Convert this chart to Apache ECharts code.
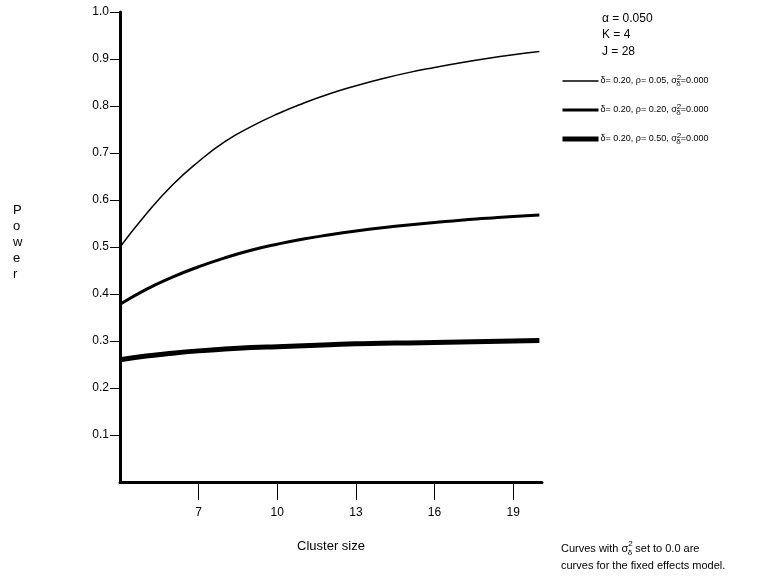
<!DOCTYPE html>
<html>
<head>
<meta charset="utf-8">
<script src="https://cdn.jsdelivr.net/npm/echarts@6/dist/echarts.min.js"></script>
<style>
  html, body { margin: 0; padding: 0; background: #fff; }
  #chart { width: 758px; height: 579px; }
</style>
</head>
<body>
<div id="chart"></div>
<script>
// cluster sizes and power values
const clusterSize = [4, 5, 6, 7, 8, 9, 10, 11, 12, 13, 14, 15, 16, 17, 18, 19, 20];
const powerRho05 = [0.500, 0.570, 0.632, 0.682, 0.724, 0.756, 0.783, 0.806, 0.826, 0.843, 0.858, 0.871, 0.882, 0.892, 0.901, 0.909, 0.916];
const powerRho20 = [0.378, 0.410, 0.436, 0.458, 0.477, 0.493, 0.506, 0.517, 0.526, 0.534, 0.541, 0.547, 0.552, 0.557, 0.561, 0.565, 0.568];
const powerRho50 = [0.260, 0.268, 0.274, 0.279, 0.283, 0.286, 0.288, 0.290, 0.292, 0.294, 0.295, 0.296, 0.297, 0.298, 0.299, 0.300, 0.301];
const seriesNames = ['rho05', 'rho20', 'rho50'];
const rhoLabels = ['0.05', '0.20', '0.50'];
const xTicks = [7, 10, 13, 16, 19];
const yTicks = [0.1, 0.2, 0.3, 0.4, 0.5, 0.6, 0.7, 0.8, 0.9, 1.0];

const font = '"Liberation Sans", Arial, sans-serif';
var myChart = echarts.init(document.getElementById('chart'));

const pairs = ys => clusterSize.map((x, i) => [x, ys[i]]);
const widths = [1.5, 3, 5];
const allData = [powerRho05, powerRho20, powerRho50];

const series = seriesNames.map((name, i) => ({
    name: name,
    type: 'line',
    data: pairs(allData[i]),
    smooth: true,
    symbol: 'none',
    lineStyle: {color: '#000', width: widths[i]},
    itemStyle: {color: '#000'}
}));

const sigmaRich = {
    t: {fontSize: 9, color: '#000', fontFamily: font},
    sup: {fontSize: 8, color: '#000', fontFamily: font, verticalAlign: 'top', padding: [0, 0, 6, 0]},
    sub: {fontSize: 8, color: '#000', fontFamily: font, verticalAlign: 'bottom', padding: [6, 0, 0, -5]}
};

var option = {
    animation: false,
    backgroundColor: '#fff',
    grid: {left: 120, right: 216, top: 12, bottom: 97},
    xAxis: {
        type: 'value',
        min: 4,
        max: 20.1,
        name: 'Cluster size',
        nameLocation: 'middle',
        nameGap: 58,
        nameTextStyle: {fontSize: 13, color: '#000', fontFamily: font},
        axisLine: {show: true, lineStyle: {color: '#000', width: 3}},
        axisTick: {show: true, customValues: xTicks, length: 18, lineStyle: {color: '#000', width: 1}},
        axisLabel: {customValues: xTicks, margin: 25, fontSize: 12, color: '#000', fontFamily: font},
        splitLine: {show: false}
    },
    yAxis: {
        type: 'value',
        min: 0,
        max: 1,
        interval: 0.1,
        axisLine: {show: true, lineStyle: {color: '#000', width: 3}},
        axisTick: {show: true, customValues: yTicks, length: 10, lineStyle: {color: '#000', width: 1}},
        axisLabel: {
            customValues: yTicks,
            margin: 11,
            fontSize: 12,
            color: '#000',
            fontFamily: font,
            formatter: v => v.toFixed(1)
        },
        splitLine: {show: false}
    },
    legend: {
        data: seriesNames.map((n, i) => ({name: n, lineStyle: {width: widths[i]}})),
        orient: 'vertical',
        left: 560,
        top: 74,
        padding: 0,
        itemWidth: 36,
        itemHeight: 14,
        itemGap: 15,
        selectedMode: false,
        itemStyle: {opacity: 0},
        lineStyle: {width: 'inherit'},
        formatter: name => {
            const i = seriesNames.indexOf(name);
            return '{t|δ= 0.20, ρ= ' + rhoLabels[i] + ', σ}{sup|2}{sub|δ}{t|=0.000}';
        },
        textStyle: {rich: sigmaRich, padding: [0, 0, 0, -3]}
    },
    graphic: [
        {
            type: 'text', left: 602, top: 10,
            style: {text: 'α = 0.050\nK = 4\nJ = 28', fontSize: 12, lineHeight: 16.5, fill: '#000', fontFamily: font}
        },
        {
            type: 'text', left: 13, top: 202,
            style: {text: 'P\no\nw\ne\nr', fontSize: 13, lineHeight: 16, fill: '#000', fontFamily: font, align: 'center'}
        },
        {
            type: 'text', left: 561, top: 540,
            style: {
                text: '{a|Curves with σ}{sup|2}{sub|δ}{a| set to 0.0 are}\n{a|curves for the fixed effects model.}',
                rich: {
                    a: {fontSize: 11, fill: '#000', fontFamily: font, lineHeight: 17},
                    sup: {fontSize: 8, fill: '#000', fontFamily: font, verticalAlign: 'top', padding: [0, 0, 6, 0]},
                    sub: {fontSize: 8, fill: '#000', fontFamily: font, verticalAlign: 'bottom', padding: [6, 0, 0, -5]}
                }
            }
        }
    ],
    series: series
};

myChart.setOption(option);
</script>
</body>
</html>
